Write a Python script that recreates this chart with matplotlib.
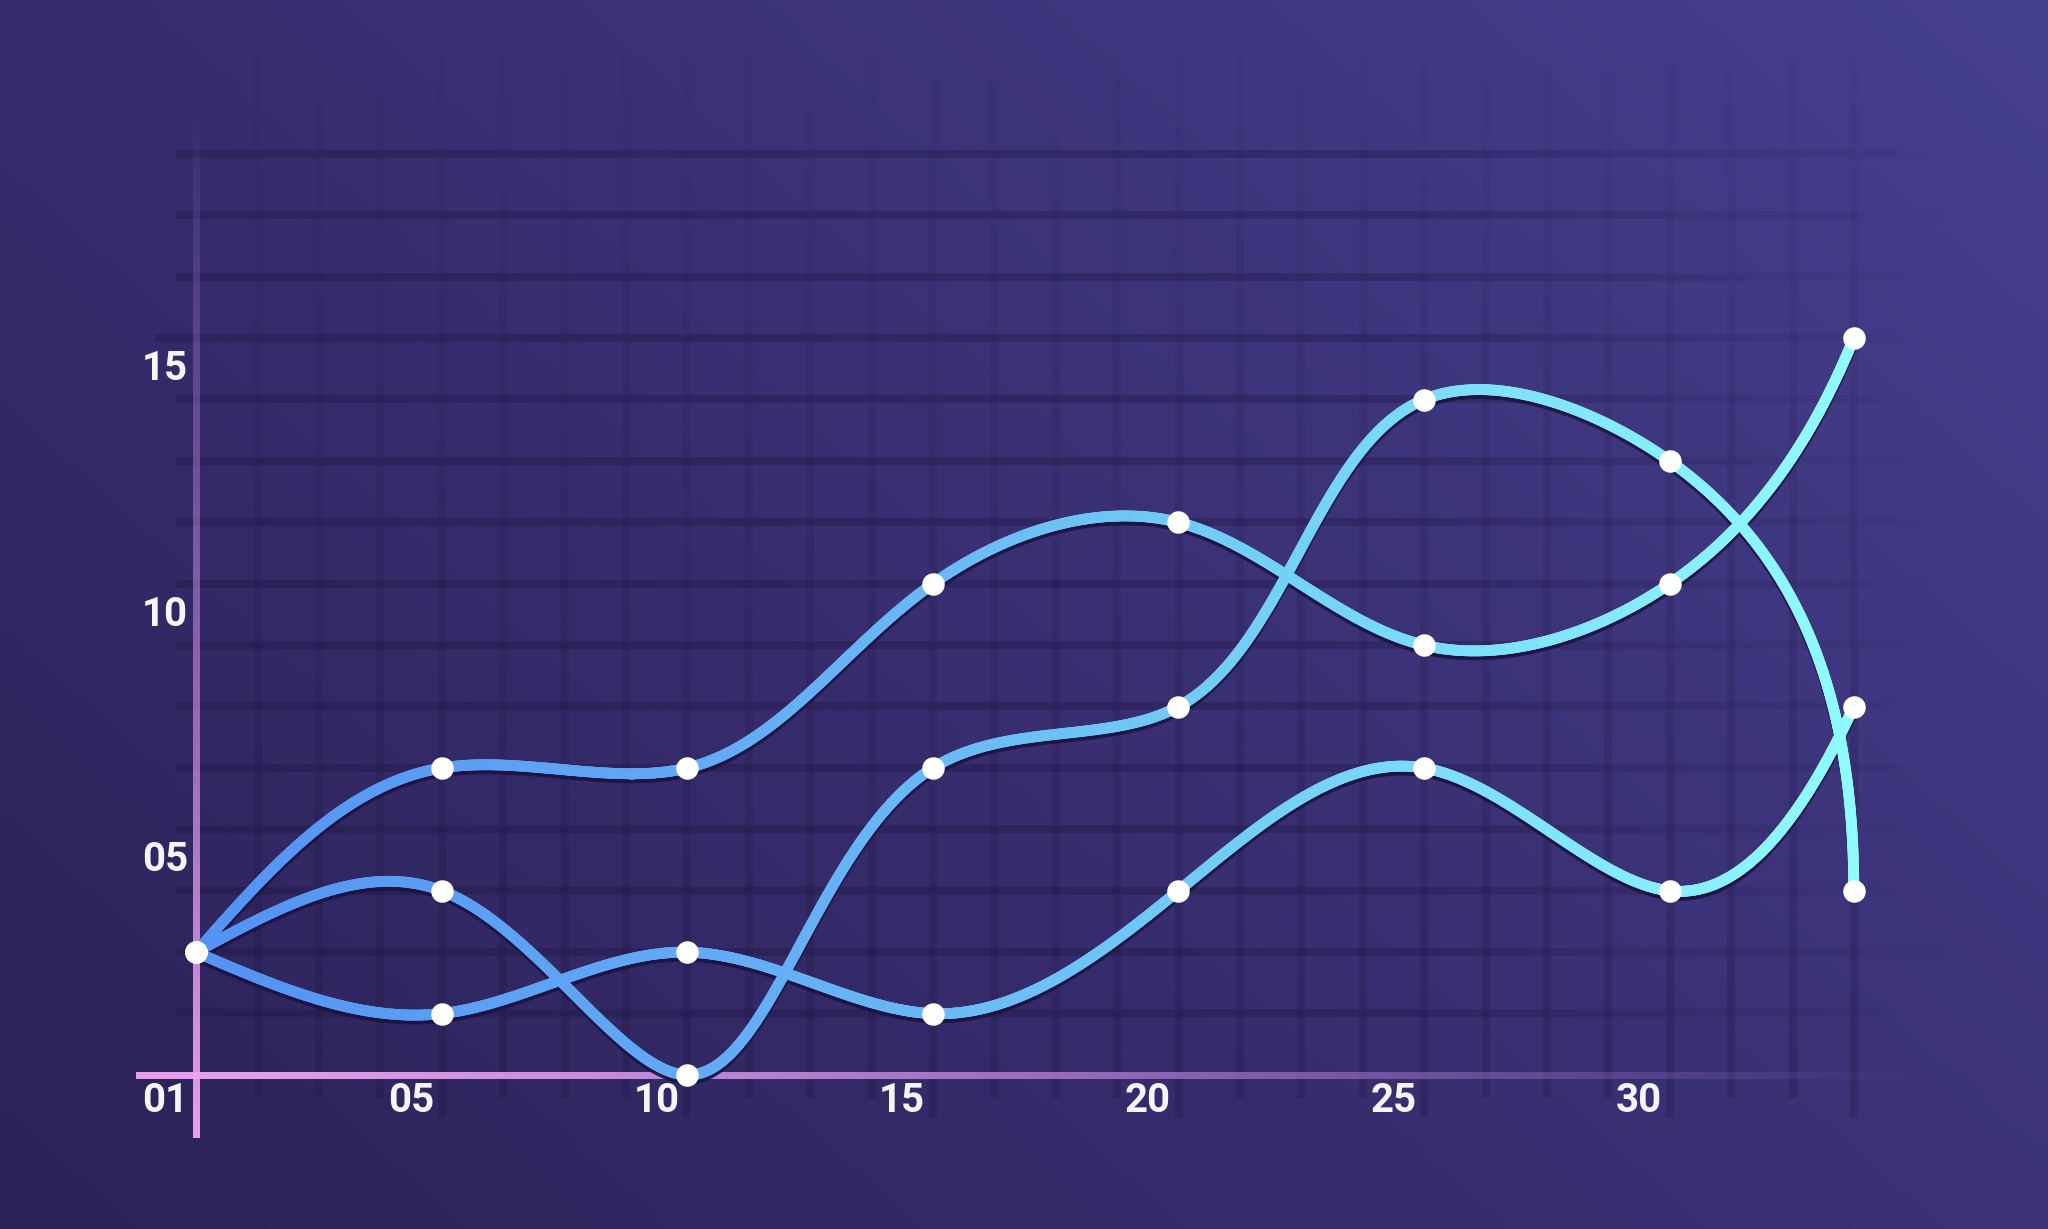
import numpy as np
import matplotlib
matplotlib.use("Agg")
import matplotlib.pyplot as plt
from matplotlib.collections import LineCollection
from matplotlib.colors import LinearSegmentedColormap, to_rgba
from matplotlib.transforms import ScaledTranslation

# ------------------------------------------------------------
# Data (x and y in grid units, one grid step = one faint line)
# ------------------------------------------------------------
x_pos = [0, 4, 8, 12, 16, 20, 24, 27]
series_a = [2, 5, 5, 8, 9, 7, 8, 12]
series_b = [2, 3, 0, 5, 6, 11, 10, 3]
series_c = [2, 1, 2, 1, 3, 5, 3, 6]

x_labels = ["01", "05", "10", "15", "20", "25", "30"]
x_label_pos = [-0.5, 3.5, 7.5, 11.5, 15.5, 19.5, 23.5]
y_labels = ["05", "10", "15"]
y_label_pos = [3.5, 7.5, 11.5]

# ------------------------------------------------------------
# Layout (pixels of the 2048x1229 canvas)
# ------------------------------------------------------------
W, H, DPI = 2048, 1229, 100
UNIT = 61.4              # px per grid unit
ORIGIN = (196, 1075)     # px of (0, 0), y from top

x_lo = -ORIGIN[0] / UNIT
x_hi = (W - ORIGIN[0]) / UNIT
y_lo = -(H - ORIGIN[1]) / UNIT
y_hi = ORIGIN[1] / UNIT


def spline(t, v, tt, runout=0.5):
    # cubic spline: natural start, partial parabolic run-out at the end
    t = np.asarray(t, float)
    v = np.asarray(v, float)
    n = len(t)
    h = np.diff(t)
    A = np.zeros((n, n))
    r = np.zeros(n)
    A[0, 0] = 1
    A[-1, -1] = 1
    A[-1, -2] = -runout
    for i in range(1, n - 1):
        A[i, i - 1] = h[i - 1]
        A[i, i] = 2 * (h[i - 1] + h[i])
        A[i, i + 1] = h[i]
        r[i] = 3 * ((v[i + 1] - v[i]) / h[i] - (v[i] - v[i - 1]) / h[i - 1])
    c = np.linalg.solve(A, r)
    b = (v[1:] - v[:-1]) / h - h * (2 * c[:-1] + c[1:]) / 3
    d = (c[1:] - c[:-1]) / (3 * h)
    idx = np.clip(np.searchsorted(t, tt, side="right") - 1, 0, n - 2)
    dt = tt - t[idx]
    return v[idx] + b[idx] * dt + c[idx] * dt ** 2 + d[idx] * dt ** 3


def smooth_curve(xs, ys, n=1500):
    xs = np.asarray(xs, float)
    ys = np.asarray(ys, float)
    t = np.concatenate([[0], np.cumsum(np.hypot(np.diff(xs), np.diff(ys)))])
    tt = np.linspace(0, t[-1], n)
    return spline(t, xs, tt), spline(t, ys, tt)


def segments(x, y):
    pts = np.column_stack([x, y]).reshape(-1, 1, 2)
    return np.concatenate([pts[:-1], pts[1:]], axis=1)


def strip(ax, rgba, x0, x1, y0, y1, horizontal=True, z=1):
    # straight band with a colour/alpha gradient along its length
    img = rgba[None, :, :] if horizontal else rgba[:, None, :]
    ax.imshow(img, origin="lower", aspect="auto", extent=(x0, x1, y0, y1),
              interpolation="bilinear", zorder=z)


fig = plt.figure(figsize=(W / DPI, H / DPI), dpi=DPI)
ax = fig.add_axes([0, 0, 1, 1])

# background gradient, dark bottom-left to lighter top-right
gx, gy = np.meshgrid(np.linspace(0, 1, 400), np.linspace(0, 1, 240))
grad = 0.6 * gx + 0.4 * gy
bg_cmap = LinearSegmentedColormap.from_list("bg", ["#2c2258", "#392f72", "#45408f"])
ax.imshow(grad, cmap=bg_cmap, origin="lower", aspect="auto",
          extent=(x_lo, x_hi, y_lo, y_hi), zorder=0, interpolation="bilinear")

grid_rgb = np.array(to_rgba("#1f1742"))
hw = 3.8 / UNIT   # half width of a grid line

# horizontal grid lines, fading to the right
for k in range(1, 16):
    x0 = -0.67 if k == 12 else -0.33
    xs = np.linspace(x0, 28.6, 300)
    rgba = np.tile(grid_rgb, (len(xs), 1))
    rgba[:, 3] = 0.34 * np.clip((28.6 - xs) / 9.0, 0, 1)
    strip(ax, rgba, x0, 28.6, k - hw, k + hw, True)

# vertical grid lines, fading to the top
for j in range(1, 28):
    bottom = -0.7 if j in x_pos else -0.37
    ys = np.linspace(bottom, 16.6, 300)
    rgba = np.tile(grid_rgb, (len(ys), 1))
    rgba[:, 3] = 0.28 - 0.25 * np.clip((ys + 0.5) / 17.0, 0, 1) ** 1.2
    strip(ax, rgba, j - hw, j + hw, bottom, 16.6, False)

# pink axes
pink = np.array(to_rgba("#f3a9f7"))
purple = np.array(to_rgba("#8a66c0"))
aw = 3.5 / UNIT
xs = np.linspace(-0.98, 28.2, 300)
f = (xs - xs[0]) / (xs[-1] - xs[0])
rgba = pink * (1 - f[:, None]) + purple * f[:, None]
rgba[:, 3] = np.clip(1.0 - f ** 2.2, 0, 1) * 0.95
strip(ax, rgba, xs[0], xs[-1], -aw, aw, True, z=3)
ys = np.linspace(-1.03, 15.8, 300)
f = (ys - ys[0]) / (ys[-1] - ys[0])
rgba = pink * (1 - f[:, None]) + purple * f[:, None]
rgba[:, 3] = np.clip(0.95 - 0.7 * f - 0.25 * f ** 6, 0, 1)
strip(ax, rgba, -aw, aw, ys[0], ys[-1], False, z=3)

# data curves with a blue-to-cyan gradient along x
line_cmap = LinearSegmentedColormap.from_list("ln", ["#5492f3", "#64acf4", "#74d2f6", "#90fbfd"])
shadow = ax.transData + ScaledTranslation(0, -4 / DPI, fig.dpi_scale_trans)
for ys_data in (series_c, series_b, series_a):
    cx, cy = smooth_curve(x_pos, ys_data)
    seg = segments(cx, cy)
    ax.add_collection(LineCollection(seg, colors="#1d1444", alpha=0.3, linewidths=7.8,
                                     capstyle="round", transform=shadow, zorder=4))
    mid = (cx[:-1] + cx[1:]) / 2
    lc = LineCollection(seg, colors=line_cmap(np.clip(mid / 27.0, 0, 1)),
                        linewidths=7.8, capstyle="round", joinstyle="round", zorder=5)
    ax.add_collection(lc)
    ax.plot(x_pos, ys_data, "o", color="white", markersize=16.2, markeredgewidth=0, zorder=6)

# tick labels
font = dict(family=["Roboto", "DejaVu Sans"], fontsize=29, fontweight="bold",
            color="#f6f4ff", zorder=7)
for lab, xp in zip(x_labels, x_label_pos):
    ax.text(xp, -0.42, lab, ha="center", va="center", **font)
for lab, yp in zip(y_labels, y_label_pos):
    ax.text(-0.5, yp, lab, ha="center", va="center", **font)

ax.set_xlim(x_lo, x_hi)
ax.set_ylim(y_lo, y_hi)
ax.axis("off")

fig.savefig("out.png", dpi=DPI)
plt.close(fig)
